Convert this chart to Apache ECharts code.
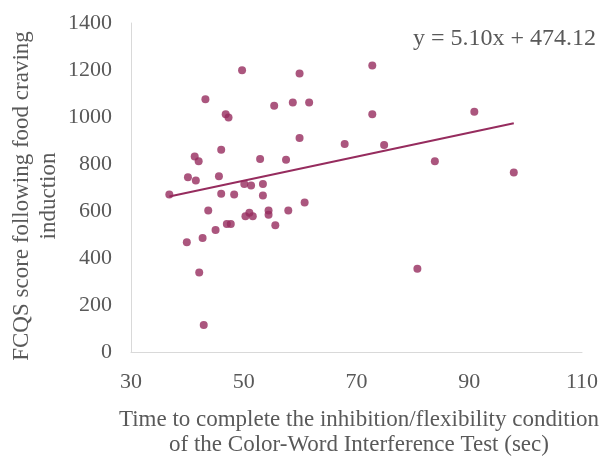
<!DOCTYPE html>
<html>
<head>
<meta charset="utf-8">
<script src="https://cdn.jsdelivr.net/npm/echarts@6/dist/echarts.min.js"></script>
<style>html,body{margin:0;padding:0;background:#fff}#c{width:604px;height:456px}</style>
</head>
<body>
<div id="c"></div>
<script>
const timeSec = [36.8,39.9,40.1,41.3,41.5,42.0,42.1,42.7,42.9,43.2,43.7,45.0,45.6,46.0,46.0,46.8,47.0,47.3,47.7,48.3,49.7,50.1,50.3,51.0,51.3,51.6,52.9,53.4,53.4,54.4,54.4,55.4,55.6,57.5,57.9,58.7,59.9,59.9,60.8,61.6,67.9,72.8,72.8,74.9,80.8,83.9,90.9,97.9];
const fcqs = [670,467,744,832,730,812,338,485,115,1076,602,519,748,861,673,1012,545,998,545,670,1199,715,578,593,708,578,821,715,666,602,584,1048,539,818,602,1062,1185,911,636,1062,885,1219,1012,881,354,812,1022,764];
const xTicks = [30,50,70,90,110];
const yTicks = [0,200,400,600,800,1000,1200,1400];
const slope = 5.10, intercept = 474.12;

const pts = timeSec.map((x,i)=>[x,fcqs[i]]);
const xmin = Math.min(...timeSec), xmax = Math.max(...timeSec);
const trend = [[xmin, slope*xmin+intercept],[xmax, slope*xmax+intercept]];
const col = '#962C5E';
const txt = '#595959';
const font = 'Liberation Serif';

const chart = echarts.init(document.getElementById('c'));
chart.setOption({
  animation:false,
  grid:{left:131,right:22,top:23,bottom:104},
  xAxis:{type:'value',min:xTicks[0],max:xTicks[xTicks.length-1],interval:20,
    axisLine:{show:true,lineStyle:{color:'#d9d9d9',width:1}},axisTick:{show:false},splitLine:{show:false},
    axisLabel:{color:txt,fontFamily:font,fontSize:22,margin:19,formatter:v=>String(v)}},
  yAxis:{type:'value',min:yTicks[0],max:yTicks[yTicks.length-1],interval:200,
    axisLine:{show:true,lineStyle:{color:'#d9d9d9',width:1}},axisTick:{show:false},splitLine:{show:false},
    axisLabel:{color:txt,fontFamily:font,fontSize:22,margin:19,formatter:v=>String(v)}},
  graphic:[
    {type:'text',x:596,y:39,style:{text:'y = 5.10x + 474.12',fill:txt,font:'24px "Liberation Serif"',align:'right',verticalAlign:'middle'}},
    {type:'text',x:359,y:432,style:{text:'Time to complete the inhibition/flexibility condition\nof the Color-Word Interference Test (sec)',fill:txt,font:'23px "Liberation Serif"',align:'center',verticalAlign:'middle',lineHeight:25}},
    {type:'text',x:35,y:196,rotation:Math.PI/2,style:{text:'FCQS score following food craving\ninduction',fill:txt,font:'23px "Liberation Serif"',align:'center',verticalAlign:'middle',lineHeight:27}}
  ],
  series:[
    {type:'line',data:trend,symbol:'none',lineStyle:{color:col,width:2},silent:true,z:1},
    {type:'scatter',data:pts,symbolSize:8,itemStyle:{color:col},z:2}
  ]
});
</script>
</body>
</html>
